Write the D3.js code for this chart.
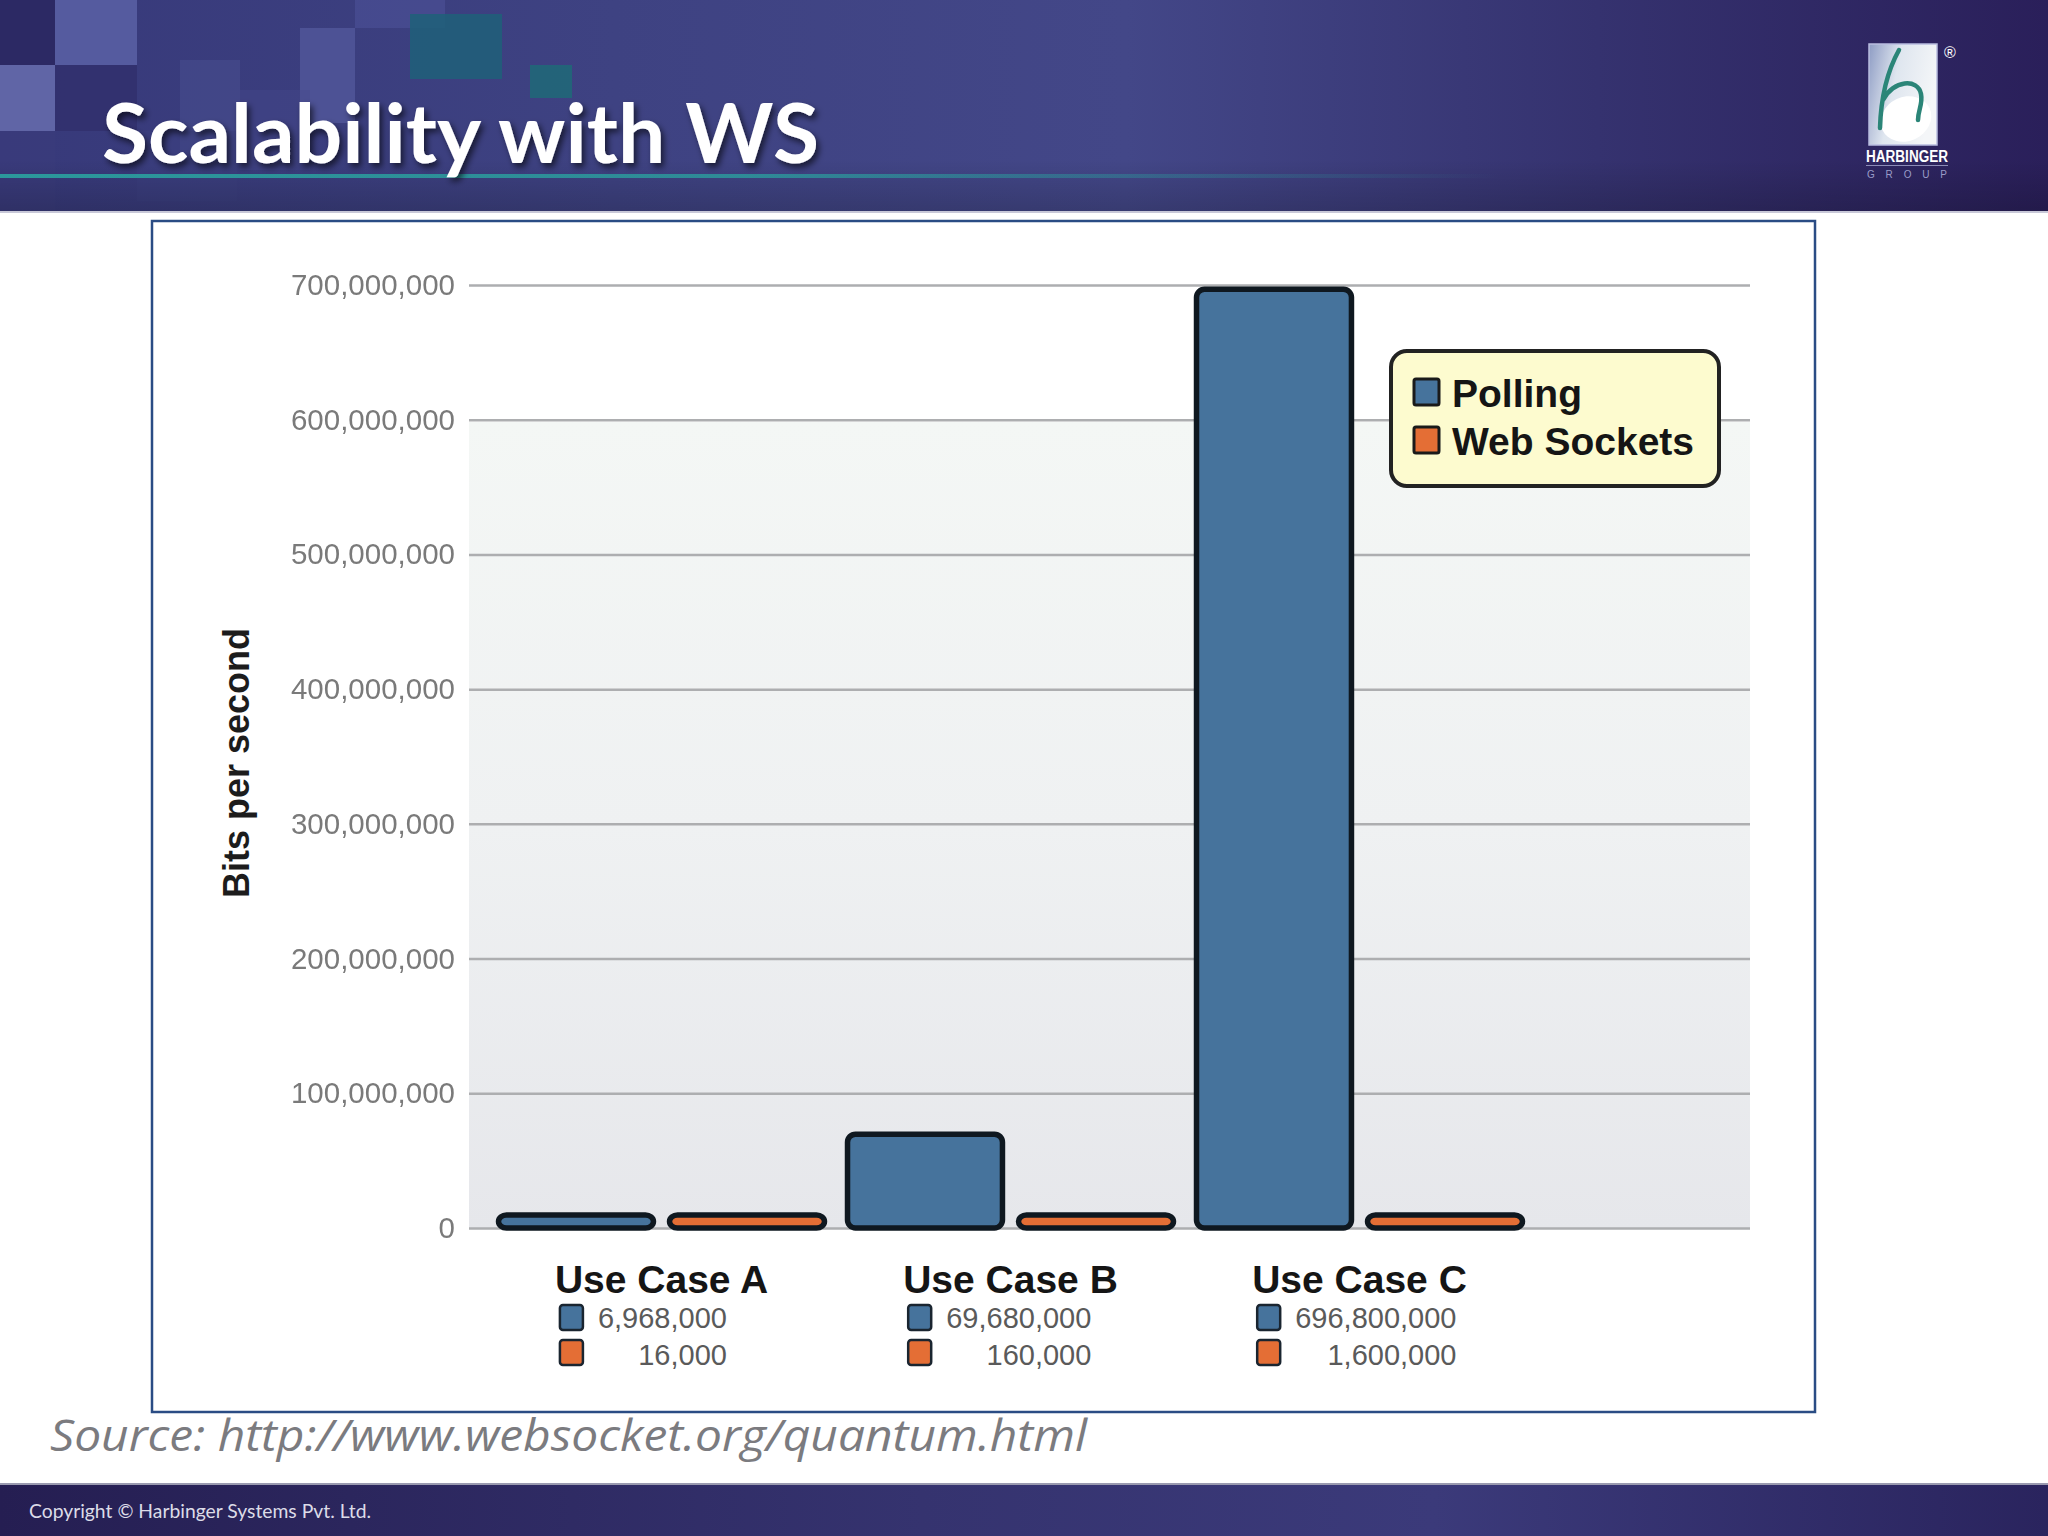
<!DOCTYPE html>
<html><head><meta charset="utf-8">
<script src="https://cdn.jsdelivr.net/npm/d3@7"></script>
<style>body{margin:0;background:#fff}svg{display:block}</style>
</head><body>
<svg id="c" width="2048" height="1536"></svg>
<script>
// ---- data ----
const categories = ["Use Case A", "Use Case B", "Use Case C"];
const seriesNames = ["Polling", "Web Sockets"];
const polling = [6968000, 69680000, 696800000];
const webSockets = [16000, 160000, 1600000];
const yTicks = [0, 100000000, 200000000, 300000000, 400000000, 500000000, 600000000, 700000000];
const seriesColors = ["#46739c", "#e46e35"];
const titleText = "Scalability with WS";
const yAxisTitle = "Bits per second";
const sourceText = "Source: http://www.websocket.org/quantum.html";
const copyrightText = "Copyright \u00A9 Harbinger Systems Pvt. Ltd.";

const svg = d3.select("#c");
const defs = svg.append("defs");

// gradients
const hg = defs.append("linearGradient").attr("id", "hdr").attr("x1", 0).attr("x2", 1).attr("y1", 0).attr("y2", 0);
[[0, "#37397a"], [0.3, "#3e4282"], [0.55, "#434788"], [0.78, "#35326f"], [1, "#2a1f5a"]].forEach(s => hg.append("stop").attr("offset", s[0]).attr("stop-color", s[1]));
const hv = defs.append("linearGradient").attr("id", "hdrv").attr("x1", 0).attr("x2", 0).attr("y1", 0).attr("y2", 1);
[[0, "#000", 0], [0.75, "#000", 0], [1, "#000", 0.18]].forEach(s => hv.append("stop").attr("offset", s[0]).attr("stop-color", s[1]).attr("stop-opacity", s[2]));
const fg = defs.append("linearGradient").attr("id", "ftr").attr("x1", 0).attr("x2", 1).attr("y1", 0).attr("y2", 0);
[[0, "#251e52"], [0.45, "#35336f"], [0.7, "#3b3a7a"], [1, "#2a245e"]].forEach(s => fg.append("stop").attr("offset", s[0]).attr("stop-color", s[1]));
const tl = defs.append("linearGradient").attr("id", "teal").attr("x1", 0).attr("x2", 1).attr("y1", 0).attr("y2", 0);
[[0, "#2aa3a0", 0.9], [0.5, "#2aa3a0", 0.75], [1, "#2aa3a0", 0]].forEach(s => tl.append("stop").attr("offset", s[0]).attr("stop-color", s[1]).attr("stop-opacity", s[2]));
const pb = defs.append("linearGradient").attr("id", "plotbg").attr("x1", 0).attr("x2", 0).attr("y1", 0).attr("y2", 1);
[[0, "#f4f7f5"], [0.5, "#eff1f2"], [1, "#e6e7eb"]].forEach(s => pb.append("stop").attr("offset", s[0]).attr("stop-color", s[1]));
const lg = defs.append("linearGradient").attr("id", "logo").attr("x1", 0).attr("x2", 1).attr("y1", 0).attr("y2", 0.3);
[[0, "#8e9cc4"], [0.45, "#dfe6ef"], [1, "#f4f6f8"]].forEach(s => lg.append("stop").attr("offset", s[0]).attr("stop-color", s[1]));
const sh = defs.append("filter").attr("id", "tshadow").attr("x", -0.1).attr("y", -0.3).attr("width", 1.2).attr("height", 1.6);
sh.append("feDropShadow").attr("dx", 3).attr("dy", 4).attr("stdDeviation", 3).attr("flood-color", "#000").attr("flood-opacity", 0.6);
const bl = defs.append("filter").attr("id", "soft");
bl.append("feGaussianBlur").attr("stdDeviation", 0.5);

// ---- header ----
svg.append("rect").attr("x", 0).attr("y", 0).attr("width", 2048).attr("height", 213).attr("fill", "url(#hdr)");
const squares = [
  [0, 0, 55, 65, "#2b2862", 0.9], [55, 0, 82, 65, "#5a62a6", 0.85], [0, 65, 55, 66, "#6a70b2", 0.8],
  [55, 65, 82, 66, "#2e2c68", 0.6], [0, 131, 55, 82, "#3a3c7c", 0.6], [180, 60, 60, 90, "#4a4f92", 0.5],
  [300, 28, 55, 95, "#53589b", 0.8], [355, 0, 90, 28, "#4d5298", 0.6], [410, 14, 92, 65, "#1f6079", 0.85],
  [530, 65, 42, 33, "#1e6a78", 0.85], [240, 90, 70, 80, "#45498c", 0.4], [137, 131, 100, 70, "#3c3f80", 0.5]
];
svg.append("g").selectAll("rect").data(squares).join("rect")
  .attr("x", d => d[0]).attr("y", d => d[1]).attr("width", d => d[2]).attr("height", d => d[3])
  .attr("fill", d => d[4]).attr("opacity", d => d[5]);
svg.append("rect").attr("x", 0).attr("y", 0).attr("width", 2048).attr("height", 213).attr("fill", "url(#hdrv)");
svg.append("rect").attr("x", 0).attr("y", 174).attr("width", 1500).attr("height", 4).attr("fill", "url(#teal)");
svg.append("rect").attr("x", 0).attr("y", 211).attr("width", 2048).attr("height", 2).attr("fill", "#c8c8d8");

svg.append("text").attr("x", 102).attr("y", 163).text(titleText)
  .attr("font-family", "Lato, 'Open Sans', sans-serif").attr("font-weight", 700).attr("font-size", 82)
  .attr("fill", "#fff").attr("textLength", 717).attr("lengthAdjust", "spacingAndGlyphs").attr("filter", "url(#tshadow)");

// logo
const logo = svg.append("g");
logo.append("rect").attr("x", 1869).attr("y", 44).attr("width", 68).attr("height", 101).attr("fill", "url(#logo)").attr("stroke", "#b9bde0").attr("stroke-width", 1.5);
logo.append("ellipse").attr("cx", 1906).attr("cy", 119).attr("rx", 26).attr("ry", 22).attr("transform", "rotate(-25 1906 119)").attr("fill", "#fff");
logo.append("path").attr("d", "M1899,50 C1889,68 1881,95 1880,128 M1883,100 C1893,80 1918,78 1921,94 C1923,104 1918,110 1918,120")
  .attr("fill", "none").attr("stroke", "#2b8578").attr("stroke-width", 4.5).attr("stroke-linecap", "round");
logo.append("text").attr("x", 1950).attr("y", 58).attr("text-anchor", "middle").text("\u00AE").attr("fill", "#fff").attr("font-size", 16).attr("font-family", "'Liberation Sans', sans-serif");
logo.append("text").attr("x", 1866).attr("y", 162).text("HARBINGER").attr("fill", "#fff").attr("font-size", 16).attr("font-weight", 700)
  .attr("font-family", "'Liberation Sans', sans-serif").attr("textLength", 82).attr("lengthAdjust", "spacingAndGlyphs");
logo.append("rect").attr("x", 1866).attr("y", 165).attr("width", 82).attr("height", 1).attr("fill", "#8c8cb8");
logo.append("text").attr("x", 1867).attr("y", 178).text("G R O U P").attr("fill", "#9a9cc8").attr("font-size", 10)
  .attr("font-family", "'Liberation Sans', sans-serif").attr("textLength", 80).attr("lengthAdjust", "spacing");

// ---- footer ----
svg.append("rect").attr("x", 0).attr("y", 1484).attr("width", 2048).attr("height", 52).attr("fill", "url(#ftr)");
svg.append("rect").attr("x", 0).attr("y", 1483).attr("width", 2048).attr("height", 2).attr("fill", "#9a9ab0");
svg.append("text").attr("x", 29).attr("y", 1518).text(copyrightText).attr("fill", "#dcdce8").attr("font-size", 20)
  .attr("font-family", "Lato, 'Open Sans', sans-serif").attr("textLength", 342).attr("lengthAdjust", "spacingAndGlyphs");

// source
svg.append("text").attr("x", 50).attr("y", 1451).text(sourceText).attr("fill", "#7b7b7f").attr("font-size", 44)
  .attr("font-style", "italic").attr("font-family", "'Open Sans', Lato, sans-serif").attr("font-weight", 400)
  .attr("textLength", 1037).attr("lengthAdjust", "spacingAndGlyphs");

// ---- chart frame ----
svg.append("rect").attr("x", 152).attr("y", 221).attr("width", 1663).attr("height", 1191).attr("fill", "#fff")
  .attr("stroke", "#2a4c84").attr("stroke-width", 2.5);

const plotL = 469, plotR = 1750;
const y = d3.scaleLinear().domain([0, 700000000]).range([1228, 285]);
const x0 = d3.scaleBand().domain(categories).range([487, 1534]).paddingInner(0.066).paddingOuter(0.033);
const x1 = d3.scaleBand().domain(seriesNames).range([0, x0.bandwidth()]).paddingInner(0.094);
const color = d3.scaleOrdinal().domain(seriesNames).range(seriesColors);

// plot background
svg.append("rect").attr("x", plotL).attr("y", y(600000000) + 2).attr("width", plotR - plotL).attr("height", y(0) - y(600000000) - 2).attr("fill", "url(#plotbg)");

// grid + axis
const axis = svg.append("g").attr("transform", `translate(${plotL},0)`)
  .call(d3.axisLeft(y).tickValues(yTicks).tickFormat(d3.format(",")).tickSize(-(plotR - plotL)).tickPadding(14));
axis.select(".domain").remove();
axis.selectAll(".tick line").attr("stroke", "#adaeb0").attr("stroke-width", 2.5);
axis.selectAll(".tick text").attr("fill", "#7a7a7a").attr("font-size", 29.5).attr("font-family", "'Liberation Sans', Arial, sans-serif").attr("filter", "url(#soft)");

svg.append("text").attr("transform", "translate(249,763) rotate(-90)").attr("text-anchor", "middle").text(yAxisTitle)
  .attr("font-size", 36).attr("font-weight", 700).attr("fill", "#1c1c1c").attr("font-family", "'Liberation Sans', Arial, sans-serif");

// bars
const rows = categories.map((c, i) => ({cat: c, vals: [{s: seriesNames[0], v: polling[i]}, {s: seriesNames[1], v: webSockets[i]}]}));
const minH = 13;
const g = svg.append("g").selectAll("g").data(rows).join("g").attr("transform", d => `translate(${x0(d.cat)},0)`);
g.selectAll("rect").data(d => d.vals).join("rect")
  .attr("x", d => x1(d.s)).attr("width", x1.bandwidth())
  .attr("y", d => y(0) - Math.max(y(0) - y(d.v), minH))
  .attr("height", d => Math.max(y(0) - y(d.v), minH))
  .attr("rx", 8).attr("ry", 8)
  .attr("fill", d => color(d.s)).attr("stroke", "#0f1820").attr("stroke-width", 5.5);

// category labels + value legend
const fmt = d3.format(",");
rows.forEach(r => {
  const cx = x0(r.cat) + x0.bandwidth() / 2;
  const lab = svg.append("text").attr("x", cx).attr("y", 1293).attr("text-anchor", "middle").text(r.cat)
    .attr("font-size", 39).attr("font-weight", 700).attr("fill", "#151515").attr("font-family", "'Liberation Sans', Arial, sans-serif");
  const bb = lab.node().getBBox();
  const sx = bb.x + 5;
  const t1 = svg.append("text").attr("x", sx + 38).attr("y", 1328).text(fmt(r.vals[0].v))
    .attr("font-size", 29).attr("fill", "#5a5a5a").attr("font-family", "'Liberation Sans', Arial, sans-serif");
  const right = sx + 38 + t1.node().getComputedTextLength();
  svg.append("text").attr("x", right).attr("y", 1365).attr("text-anchor", "end").text(fmt(r.vals[1].v))
    .attr("font-size", 29).attr("fill", "#5a5a5a").attr("font-family", "'Liberation Sans', Arial, sans-serif");
  [[1305, 0], [1340, 1]].forEach(([yy, k]) => {
    svg.append("rect").attr("x", sx).attr("y", yy).attr("width", 23).attr("height", 25).attr("rx", 3)
      .attr("fill", color(seriesNames[k])).attr("stroke", "#1a2530").attr("stroke-width", 2.5);
  });
});

// legend box
const lgd = svg.append("g");
lgd.append("rect").attr("x", 1391).attr("y", 351).attr("width", 328).attr("height", 135).attr("rx", 16)
  .attr("fill", "#fdfbcf").attr("stroke", "#222").attr("stroke-width", 4);
seriesNames.forEach((s, i) => {
  lgd.append("rect").attr("x", 1414).attr("y", 379 + i * 48).attr("width", 25).attr("height", 26).attr("rx", 2)
    .attr("fill", color(s)).attr("stroke", "#1a1a1a").attr("stroke-width", 3);
  lgd.append("text").attr("x", 1452).attr("y", 407 + i * 48).text(s)
    .attr("font-size", 39).attr("font-weight", 700).attr("fill", "#151515").attr("font-family", "'Liberation Sans', Arial, sans-serif");
});
</script>
</body></html>
